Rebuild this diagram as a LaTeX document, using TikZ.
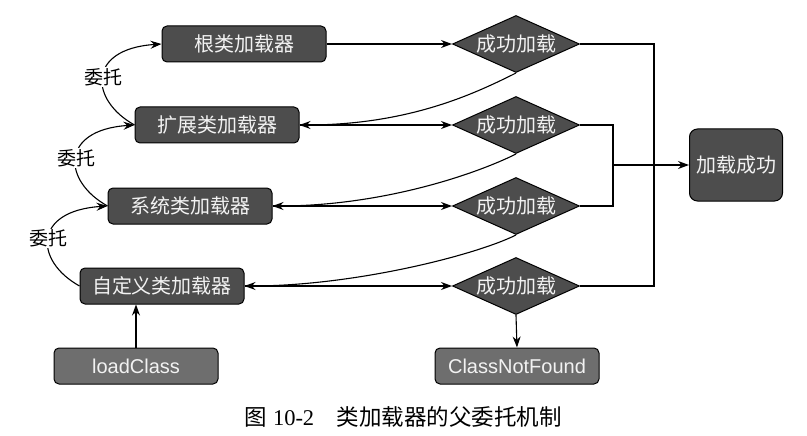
\documentclass[tikz,border=0pt]{standalone}
\usepackage{fontspec}
\setmainfont{Liberation Sans}
\newfontfamily\cjk{Noto Sans CJK SC}
\newfontfamily\capserif{Liberation Serif}
\usetikzlibrary{shapes.geometric,arrows.meta}
\definecolor{boxgray}{HTML}{4D4D4D}
\definecolor{callgray}{HTML}{6E6E6E}
\definecolor{textgray}{HTML}{F2F2F2}
\tikzset{
  loader/.style={draw=black, line width=1pt, fill=boxgray, rounded corners=5pt,
    minimum width=164pt, minimum height=36pt, inner sep=0pt, text=textgray,
    font=\cjk\fontsize{20}{24}\selectfont},
  callbox/.style={loader, fill=callgray, font=\fontsize{20}{24}\selectfont},
  check/.style={diamond, aspect=2.23, draw=black, line width=1pt, fill=boxgray,
    minimum width=127pt, minimum height=57pt, inner sep=0pt, text=textgray,
    font=\cjk\fontsize{20}{24}\selectfont},
  donebox/.style={loader, minimum width=93pt, minimum height=72pt, rounded corners=8pt},
  tag/.style={fill=white, inner sep=1pt, font=\cjk\fontsize{19}{22}\selectfont},
}
\begin{document}
\begin{tikzpicture}[x=1pt, y=-1pt]
      \useasboundingbox (0,0) rectangle (807,436);
      \draw
        (244,44) node[loader] (root){根类加载器}
        (217,125) node[loader] (ext){扩展类加载器}
        (190,206) node[loader] (sys){系统类加载器}
        (162,286) node[loader] (cust){自定义类加载器}
        (136,366) node[callbox] (load){loadClass}
        (516,44) node[check] (d1){成功加载}
        (516,125) node[check] (d2){成功加载}
        (516,206) node[check] (d3){成功加载}
        (516,286) node[check] (d4){成功加载}
        (517,366) node[callbox] (miss){ClassNotFound}
        (736,165) node[donebox] (done){加载成功};
      \coordinate (j1) at (654,165);
      \coordinate (j2) at (613,165);
      \begin{scope}[line width=1.1pt, -{Stealth[length=11pt,width=8pt]}]
        \draw (root.east) -- (d1.west);
        \draw (ext.east) -- (d2.west);
        \draw (sys.east) -- (d3.west);
        \draw (cust.east) -- (d4.west);
        \draw (d1.south) .. controls +(-40,20) and +(110,0) .. (ext.east);
        \draw (d2.south) .. controls +(-40,20) and +(110,0) .. (sys.east);
        \draw (d3.south) .. controls +(-40,20) and +(110,0) .. (cust.east);
        \draw (ext.west) .. controls +(-45,-25) and +(-75,5) .. node[tag] {委托} (root.west);
        \draw (sys.west) .. controls +(-45,-25) and +(-75,5) .. node[tag] {委托} (ext.west);
        \draw (cust.west) .. controls +(-45,-25) and +(-75,5) .. node[tag] {委托} (sys.west);
        \draw (load.north) -- (load.north |- cust.south);
        \draw (d4.south) -- (miss.north);
        \draw (j2) -- (done.west);
      \end{scope}
      \draw[line width=1.1pt] (d1.east) -| (j1) |- (d4.east);
      \draw[line width=1.1pt] (d2.east) -| (j2) |- (d3.east);
      \node (cap) at (403,417) {\fontsize{22.5}{26}\selectfont{\cjk 图}\ {\capserif 10-2}\hspace{1em}{\cjk 类加载器的父委托机制}};
    \end{tikzpicture}
\end{document}
